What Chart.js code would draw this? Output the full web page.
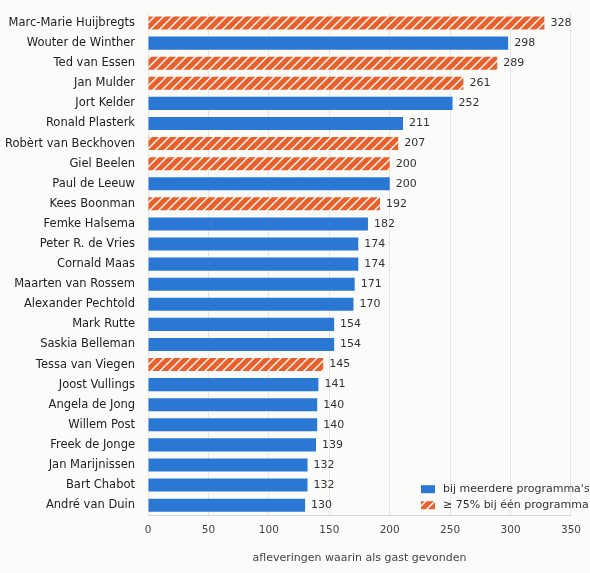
<!DOCTYPE html>
<html>
<head>
<meta charset="utf-8">
<script src="https://cdn.jsdelivr.net/npm/chart.js@4"></script>
<style>
  body { margin: 0; background: #fbfbfa; }
  #wrap { width: 590px; height: 573px; }
</style>
</head>
<body>
<div id="wrap"><canvas id="chart"></canvas></div>
<script>
const names = ["Marc-Marie Huijbregts","Wouter de Winther","Ted van Essen","Jan Mulder","Jort Kelder","Ronald Plasterk","Robèrt van Beckhoven","Giel Beelen","Paul de Leeuw","Kees Boonman","Femke Halsema","Peter R. de Vries","Cornald Maas","Maarten van Rossem","Alexander Pechtold","Mark Rutte","Saskia Belleman","Tessa van Viegen","Joost Vullings","Angela de Jong","Willem Post","Freek de Jonge","Jan Marijnissen","Bart Chabot","André van Duin"];
const values = [328,298,289,261,252,211,207,200,200,192,182,174,174,171,170,154,154,145,141,140,140,139,132,132,130];
const oneShow = [1,0,1,1,0,0,1,1,0,1,0,0,0,0,0,0,0,1,0,0,0,0,0,0,0];
const xTicks = [0,50,100,150,200,250,300,350];
const legendLabels = ["bij meerdere programma's", '≥ 75% bij één programma'];

const blue = '#2a78d4', orange = '#e8612c';

function hatch(ctx) {
  const c = document.createElement('canvas');
  c.width = 9; c.height = 9;
  const g = c.getContext('2d');
  g.fillStyle = orange; g.fillRect(0, 0, 9, 9);
  g.strokeStyle = '#ffffff'; g.lineWidth = 1.4;
  g.beginPath();
  g.moveTo(0, 9); g.lineTo(9, 0);
  g.moveTo(-1, 1); g.lineTo(1, -1);
  g.moveTo(8, 10); g.lineTo(10, 8);
  g.stroke();
  return ctx.createPattern(c, 'repeat');
}

const canvas = document.getElementById('chart');
const pattern = hatch(canvas.getContext('2d'));

const extras = {
  id: 'extras',
  afterDatasetsDraw(chart) {
    const ctx = chart.ctx;
    ctx.save();
    ctx.font = '11px "DejaVu Sans"';
    ctx.fillStyle = '#333';
    ctx.textBaseline = 'middle';
    chart.data.datasets.forEach((ds, di) => {
      chart.getDatasetMeta(di).data.forEach((bar, i) => {
        if (ds.data[i] == null) return;
        ctx.fillText(ds.data[i], bar.x + 6, bar.y);
      });
    });
    // legend
    const a = chart.chartArea;
    const fills = [blue, pattern];
    ctx.font = '11px "DejaVu Sans"';
    legendLabels.forEach((t, i) => {
      const y = a.bottom - 26 + i * 16;
      const x = a.right - 150;
      ctx.fillStyle = fills[i];
      ctx.fillRect(x, y - 4, 14, 8);
      ctx.fillStyle = '#333';
      ctx.fillText(t, x + 22, y);
    });
    ctx.restore();
  }
};

new Chart(canvas, {
  type: 'bar',
  data: {
    labels: names,
    datasets: [
      { label: legendLabels[0], data: values.map((v, i) => oneShow[i] ? null : v), backgroundColor: blue, borderWidth: 0 },
      { label: legendLabels[1], data: values.map((v, i) => oneShow[i] ? v : null), backgroundColor: pattern, borderWidth: 0 }
    ]
  },
  options: {
    indexAxis: 'y',
    responsive: true,
    maintainAspectRatio: false,
    animation: false,
    grouped: false,
    barPercentage: 0.65,
    categoryPercentage: 1,
    layout: { padding: { top: 13, right: 16, left: 0, bottom: 4 } },
    scales: {
      x: {
        min: 0, max: 350,
        afterBuildTicks: s => { s.ticks = xTicks.map(v => ({ value: v })); },
        grid: { color: '#e6e6e6', drawTicks: false },
        border: { display: true, color: '#d8d8d8' },
        ticks: { color: '#444', font: { family: 'DejaVu Sans', size: 10.5 }, padding: 9 },
        title: { display: true, text: 'afleveringen waarin als gast gevonden', color: '#444', font: { family: 'DejaVu Sans', size: 11 }, padding: { top: 6 } }
      },
      y: {
        grid: { display: false },
        border: { display: false },
        ticks: { color: '#222', font: { family: 'DejaVu Sans', size: 11.5 }, padding: 5 }
      }
    },
    plugins: {
      legend: { display: false },
      tooltip: { enabled: false }
    }
  },
  plugins: [extras]
});
</script>
</body>
</html>
